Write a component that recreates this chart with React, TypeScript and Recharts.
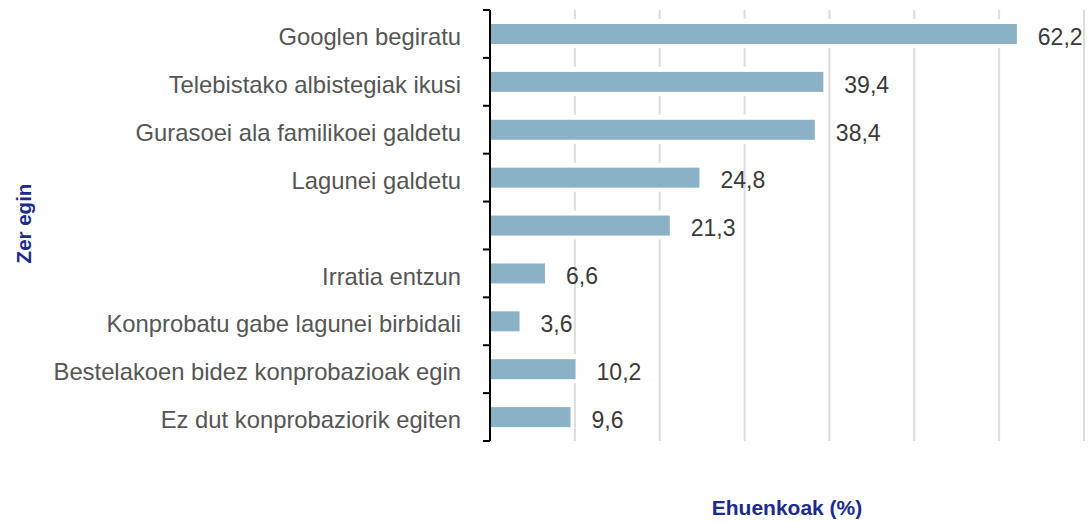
import React from 'react';
import { BarChart, Bar, XAxis, YAxis, CartesianGrid, LabelList, Label } from 'recharts';

const categories = [
  'Googlen begiratu',
  'Telebistako albistegiak ikusi',
  'Gurasoei ala familikoei galdetu',
  'Lagunei galdetu',
  '',
  'Irratia entzun',
  'Konprobatu gabe lagunei birbidali',
  'Bestelakoen bidez konprobazioak egin',
  'Ez dut konprobaziorik egiten',
];
const values = [62.2, 39.4, 38.4, 24.8, 21.3, 6.6, 3.6, 10.2, 9.6];
const xTicks = [0, 10, 20, 30, 40, 50, 60, 70];
const xTitle = 'Ehuenkoak (%)';
const yTitle = 'Zer egin';

const data = categories.map((name, i) => ({ id: String(i), name, value: values[i] }));

const W = 1088;
const H = 522;
const M = { top: 10, right: 4, bottom: 41, left: 0 };
const X_AXIS_H = 40;
const PLOT_H = H - M.top - M.bottom - X_AXIS_H;
const BAND = PLOT_H / categories.length;
const FONT = '"Liberation Sans", Arial, Helvetica, sans-serif';
const TITLE_COLOR = '#1b2a8e';

const YTick = (props: any) => {
  const { x, y, payload, index } = props;
  const axisX = x + 8;
  const label = categories[Number(payload.value)];
  return (
    <g>
      <line x1={axisX - 7} x2={axisX} y1={y - BAND / 2} y2={y - BAND / 2} stroke="#000" strokeWidth={2} />
      {index === categories.length - 1 && (
        <line x1={axisX - 7} x2={axisX} y1={y + BAND / 2} y2={y + BAND / 2} stroke="#000" strokeWidth={2} />
      )}
      <text x={axisX - 29} y={y} dy="0.47em" textAnchor="end" fill="#555" fontSize={23.8} fontFamily={FONT}>
        {label}
      </text>
    </g>
  );
};

const BarShape = (props: any) => {
  const { x, y, width, height, fill } = props;
  return (
    <g>
      <rect x={x} y={y - 5} width={width + 2} height={height + 9} fill="#fff" />
      <rect x={x + 1} y={y} width={Math.max(width - 2, 0)} height={height} fill={fill} />
    </g>
  );
};

const ValueLabel = (props: any) => {
  const { x, y, width, height, value } = props;
  return (
    <text
      x={x + width + 20}
      y={y + height / 2}
      dy="0.47em"
      textAnchor="start"
      fill="#3a3a3a"
      fontSize={23}
      fontFamily={FONT}
    >
      {String(value).replace('.', ',')}
    </text>
  );
};

const EmptyTick = () => <g />;

export default function App() {
  return (
    <div style={{ position: 'absolute', left: 0, top: 0, width: W, height: H, background: '#fff' }}>
      <BarChart width={W} height={H} data={data} layout="vertical" margin={M} barCategoryGap={0}>
        <CartesianGrid horizontal={false} vertical={true} stroke="#dcdcdc" strokeWidth={2} />
        <XAxis
          type="number"
          domain={[0, 70]}
          ticks={xTicks}
          tick={<EmptyTick />}
          axisLine={false}
          tickLine={false}
          height={X_AXIS_H}
          interval={0}
        >
          <Label
            content={(p: any) => (
              <text
                x={p.viewBox.x + p.viewBox.width / 2}
                y={515}
                textAnchor="middle"
                fill={TITLE_COLOR}
                fontSize={21}
                fontWeight="bold"
                fontFamily={FONT}
              >
                {xTitle}
              </text>
            )}
          />
        </XAxis>
        <YAxis
          type="category"
          dataKey="id"
          width={490}
          axisLine={{ stroke: '#000', strokeWidth: 2 }}
          tickLine={false}
          tick={<YTick />}
          interval={0}
        >
          <Label
            content={(p: any) => {
              const cy = p.viewBox.y + p.viewBox.height / 2 - 2;
              return (
                <text
                  x={31}
                  y={cy}
                  transform={`rotate(-90, 31, ${cy})`}
                  textAnchor="middle"
                  fill={TITLE_COLOR}
                  fontSize={20.5}
                  fontWeight="bold"
                  fontFamily={FONT}
                >
                  {yTitle}
                </text>
              );
            }}
          />
        </YAxis>
        <Bar dataKey="value" fill="#8ab1c5" barSize={20} isAnimationActive={false} shape={<BarShape />}>
          <LabelList dataKey="value" content={<ValueLabel />} />
        </Bar>
      </BarChart>
    </div>
  );
}
